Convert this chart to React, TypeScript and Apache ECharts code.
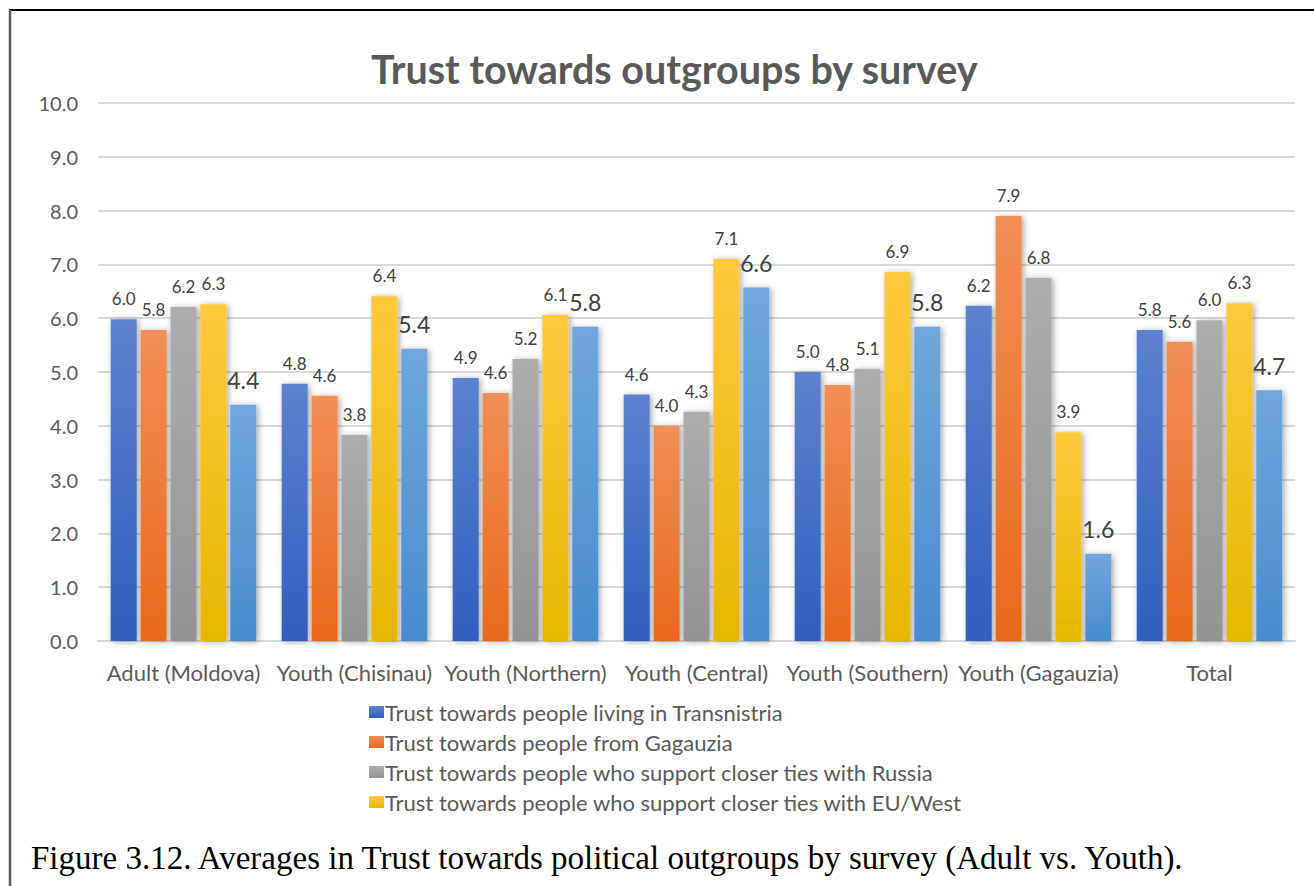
import React, { useEffect, useRef } from "react";
import * as echarts from "echarts";

const categories = [
  "Adult (Moldova)",
  "Youth (Chisinau)",
  "Youth (Northern)",
  "Youth (Central)",
  "Youth (Southern)",
  "Youth (Gagauzia)",
  "Total",
];

const seriesNames = [
  "Trust towards people living in Transnistria",
  "Trust towards people from Gagauzia",
  "Trust towards people who support closer ties with Russia",
  "Trust towards people who support closer ties with EU/West",
  "Trust towards other outgroup",
];

const transnistria = [5.98, 4.78, 4.89, 4.58, 5.0, 6.23, 5.78];
const gagauzia = [5.78, 4.56, 4.61, 4.0, 4.76, 7.9, 5.56];
const russia = [6.21, 3.83, 5.24, 4.26, 5.06, 6.75, 5.96];
const euWest = [6.26, 6.41, 6.06, 7.1, 6.86, 3.88, 6.28];
const fifth = [4.39, 5.43, 5.84, 6.57, 5.84, 1.62, 4.66];

const yTicks = ["0.0", "1.0", "2.0", "3.0", "4.0", "5.0", "6.0", "7.0", "8.0", "9.0", "10.0"];

const caption =
  "Figure 3.12. Averages in Trust towards political outgroups by survey (Adult vs. Youth).";

const FONT = "Lato, 'Open Sans', sans-serif";

const gradients = [
  ["#5c82cf", "#2f5fbe"],
  ["#f28e57", "#e8691a"],
  ["#adadad", "#939393"],
  ["#ffc93f", "#e6b700"],
  ["#6fa7dd", "#478cce"],
];

export default function App() {
  const ref = useRef<HTMLDivElement>(null);

  useEffect(() => {
    if (!ref.current) return;
    const chart = echarts.init(ref.current, undefined, { renderer: "svg" });
    const allData = [transnistria, gagauzia, russia, euWest, fifth];

    const series = allData.map((d, i) => ({
      name: seriesNames[i],
      type: "bar",
      data: d,
      barWidth: 26,
      barGap: "15%",
      itemStyle: {
        color: new echarts.graphic.LinearGradient(0, 0, 0, 1, [
          { offset: 0, color: gradients[i][0] },
          { offset: 1, color: gradients[i][1] },
        ]),
        shadowBlur: 6,
        shadowColor: "rgba(0,0,0,0.35)",
        shadowOffsetX: 2,
        shadowOffsetY: 1,
      },
      label: {
        show: true,
        position: "top",
        distance: i === 4 ? 13 : 12,
        fontFamily: FONT,
        fontSize: i === 4 ? 23 : 17,
        color: "#404040",
        formatter: (p: any) => Number(p.value).toFixed(1),
      },
    }));

    chart.setOption({
      animation: false,
      backgroundColor: "#ffffff",
      title: {
        text: "Trust towards outgroups by survey",
        left: 366,
        top: 43,
        textStyle: {
          fontFamily: FONT,
          fontSize: 39.5,
          fontWeight: "bold",
          color: "#595959",
        },
      },
      legend: {
        data: seriesNames.slice(0, 4),
        orient: "vertical",
        left: 364,
        top: 696,
        itemWidth: 15,
        itemHeight: 12,
        itemGap: 8,
        icon: "rect",
        textStyle: {
          fontFamily: FONT,
          fontSize: 22,
          color: "#595959",
          padding: [0, 0, 0, -4],
        },
      },
      grid: {
        left: 98,
        right: 19,
        top: 103,
        bottom: 245,
        containLabel: false,
      },
      xAxis: {
        type: "category",
        data: categories,
        axisLine: { lineStyle: { color: "#d9d9d9", width: 2 } },
        axisTick: { show: false },
        axisLabel: {
          fontFamily: FONT,
          fontSize: 22,
          color: "#595959",
          margin: 20,
          interval: 0,
        },
      },
      yAxis: {
        type: "value",
        min: 0,
        max: 10,
        interval: 1,
        axisLine: { show: false },
        axisTick: { show: false },
        splitLine: { lineStyle: { color: "#d9d9d9", width: 2 } },
        axisLabel: {
          fontFamily: FONT,
          fontSize: 20,
          color: "#595959",
          margin: 20,
          formatter: (v: number) => yTicks[Math.round(v)] ?? v.toFixed(1),
        },
      },
      series,
      graphic: [
        {
          type: "line",
          shape: { x1: 9, y1: 10, x2: 1314, y2: 10 },
          style: { stroke: "#000000", lineWidth: 2 },
        },
        {
          type: "line",
          shape: { x1: 10, y1: 10, x2: 10, y2: 886 },
          style: { stroke: "#595959", lineWidth: 2.5 },
        },
        {
          type: "text",
          left: 31,
          top: 841,
          style: {
            text: caption,
            fontFamily: "'Liberation Serif', 'Times New Roman', serif",
            fontSize: 33,
            fill: "#000000",
          },
        },
      ],
    });

    return () => chart.dispose();
  }, []);

  return (
    <div
      ref={ref}
      style={{ position: "fixed", left: 0, top: 0, width: 1314, height: 886, background: "#fff" }}
    />
  );
}
